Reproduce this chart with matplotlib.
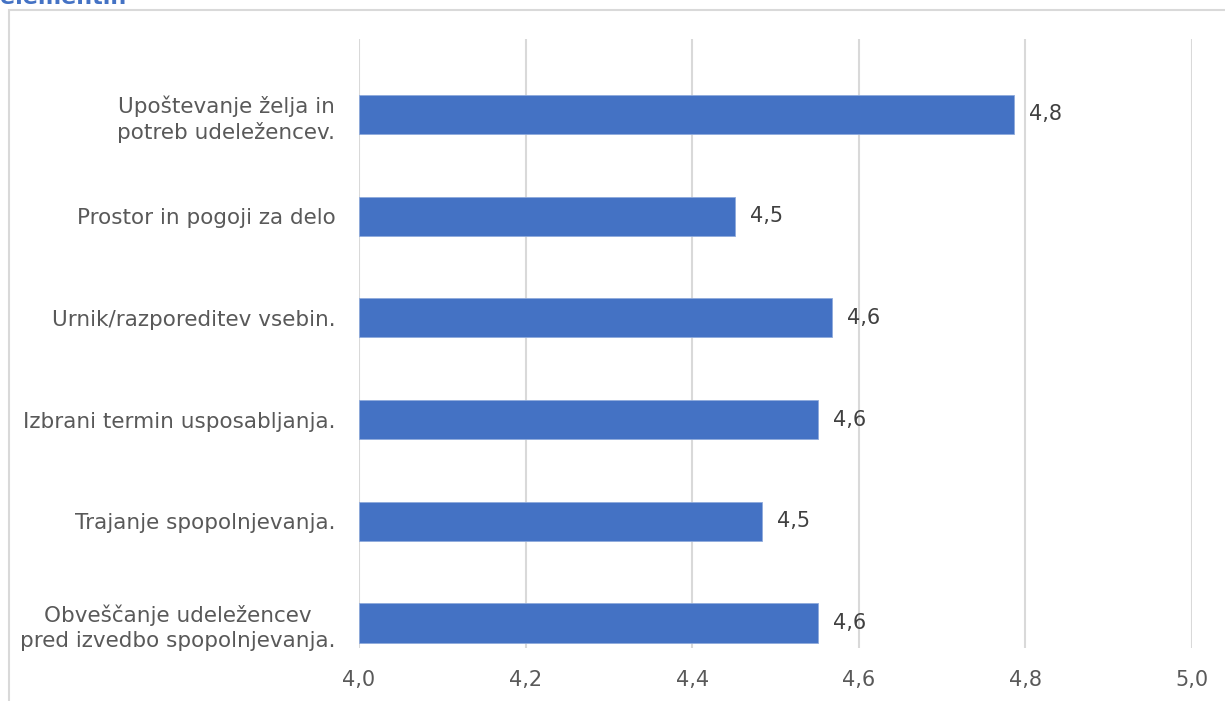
import matplotlib.pyplot as plt
from matplotlib.patches import Rectangle

# ratings per training element (top to bottom)
categories = [
    "Upoštevanje želja in\npotreb udeležencev.",
    "Prostor in pogoji za delo",
    "Urnik/razporeditev vsebin.",
    "Izbrani termin usposabljanja.",
    "Trajanje spopolnjevanja.",
    "Obveščanje udeležencev\npred izvedbo spopolnjevanja.",
]
scores = [4.786, 4.451, 4.568, 4.551, 4.484, 4.551]
x_ticks = [4.0, 4.2, 4.4, 4.6, 4.8, 5.0]

BAR = "#4472C4"
TEXT = "#595959"
GRID = "#D9D9D9"

plt.rcParams["font.family"] = ["DejaVu Sans"]

fig = plt.figure(figsize=(12.25, 7.01), dpi=100)
ax = fig.add_axes([0.2931, 0.0756, 0.6800, 0.8688])

pos = list(range(len(categories)))
ax.barh(pos, [s - 4.0 for s in scores], left=4.0, height=0.385,
        color=BAR, edgecolor="#8FAADC", linewidth=0.6, zorder=3)

for p, s in zip(pos, scores):
    ax.annotate(f"{s:.1f}".replace(".", ","), (s, p), xytext=(11, 0),
                textcoords="offset points", va="center", ha="left",
                fontsize=15, color="#404040")

ax.set_xlim(4.0, 5.0)
ax.set_ylim(5.246, -0.742)
ax.set_xticks(x_ticks)
ax.set_xticklabels([f"{t:.1f}".replace(".", ",") for t in x_ticks],
                   fontsize=15, color=TEXT)
ax.set_yticks(pos)
ax.set_yticklabels(categories, fontsize=15.5, color=TEXT, ha="right",
                   multialignment="center", linespacing=1.3)
ax.tick_params(axis="both", length=0)
ax.tick_params(axis="y", pad=17)
ax.tick_params(axis="x", pad=16)
ax.grid(axis="x", color=GRID, linewidth=1.5, zorder=0)
for side in ax.spines.values():
    side.set_visible(False)

# outer chart frame, partly clipped by the figure edge
fig.patches.append(Rectangle((9 / 1225, -0.05), 1.1, 1 - 10 / 701 + 0.05,
                             transform=fig.transFigure, fill=False,
                             edgecolor=GRID, linewidth=1.5))
fig.text(0.0, 1 - 4 / 701, "elementih", color=BAR, fontsize=16,
         fontweight="bold", ha="left", va="baseline")

fig.savefig("out.png", dpi=100)
